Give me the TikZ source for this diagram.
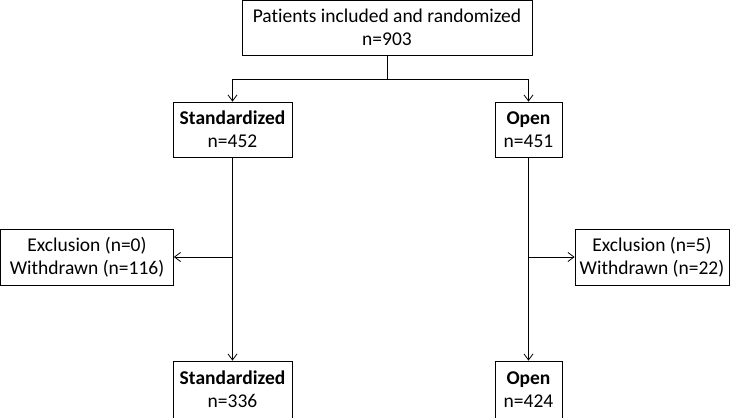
\documentclass[tikz,border=0pt]{standalone}
\usepackage{fontspec}
\setmainfont[Ligatures=NoCommon]{Carlito}
\usetikzlibrary{arrows.meta}
\usetikzlibrary{positioning}

\begin{document}
\begin{tikzpicture}[x=1pt,y=-1pt,>={Straight Barb[length=6pt,width=9pt]},
		box/.style={draw, line width=0.8pt, inner sep=0pt, align=center, font=\fontsize{19.5}{23}\selectfont},
		link/.style={draw, line width=0.8pt}]
				% frame of the page
				\useasboundingbox (0,0) rectangle (740,418);
				
				% top box
				\node[box, minimum width=290pt, minimum height=55pt] (rand) at (387,27.5) {Patients included and randomized\\n=903};
				
				% the two arms
				\node[box, minimum width=119pt, minimum height=55pt] (std) at (232.5,129.5) {\textbf{Standardized}\\n=452};
				\node[box, minimum width=67pt, minimum height=55pt] (open) at (528.5,129.5) {\textbf{Open}\\n=451};
				
				% losses
				\node[box, minimum width=173pt, minimum height=56pt] (exstd) at (87,257) {Exclusion (n=0)\\Withdrawn (n=116)};
				\node[box, minimum width=154pt, minimum height=56pt] (exopen) at (652,257) {Exclusion (n=5)\\Withdrawn (n=22)};
				
				% final groups
				\node[box, minimum width=119pt, minimum height=57pt] (stdend) at (232.5,389.5) {\textbf{Standardized}\\n=336};
				\node[box, minimum width=67pt, minimum height=57pt] (openend) at (528.5,389.5) {\textbf{Open}\\n=424};
				
				% split below top box
				\coordinate (split) at (387,79);
				\draw[link] (rand.south) -- (split);
				\draw[link,->] (split) -| (std.north);
				\draw[link,->] (split) -| (open.north);
				
				% arms down
				\draw[link,->] (std.south) -- (stdend.north);
				\draw[link,->] (open.south) -- (openend.north);
				
				% branches to losses
				\coordinate (brstd) at (std.south |- exstd.east);
				\coordinate (bropen) at (open.south |- exopen.west);
				\draw[link,->] (brstd) -- (exstd.east);
				\draw[link,->] (bropen) -- (exopen.west);
			\end{tikzpicture}
\end{document}
